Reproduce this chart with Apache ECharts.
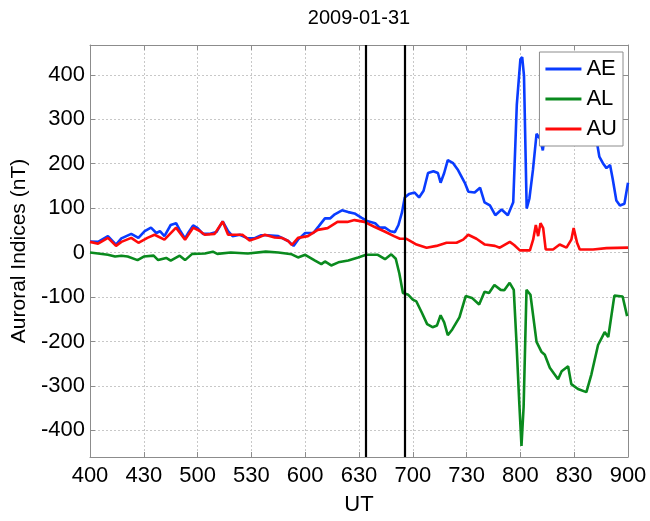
<!DOCTYPE html>
<html>
<head>
<meta charset="utf-8">
<title>Auroral Indices 2009-01-31</title>
<script src="https://cdn.jsdelivr.net/npm/echarts@6/dist/echarts.min.js"></script>
<style>
  html, body { margin: 0; padding: 0; background: #fff; }
  #chart { width: 650px; height: 521px; }
</style>
</head>
<body>
<div id="chart"></div>
<script>
// ===== Data (times in UT minutes of day) =====
const aeTime = [240,244.5,250,254.5,257.5,263,267,270.5,274,277,279,281.5,285,288,290,293,295,297.5,300,303,306.5,310.5,314,317,319.5,323.5,328,331.5,335.5,339,345,350.5,353.5,356,360,364.5,367.5,371,374,376.5,380.5,384,387.5,391.5,394.5,399,401.5,404.5,407.5,410,412,414,415.5,418,421,423.5,426,428.5,431.5,434,435.5,437.5,439.5,442.5,445,447,449,451,454.5,457.5,460,463,466,469.5,473,476,478,480,481,482,483.5,485,487,489,491,492.5,493.5,495,498,501,504,506.5,509,512,516.5,519.5,522.5,524,526,528,530,531.5,533.5,535.5,538,540];
const aeVals = [25,24,37,18,32,42,33,48,56,44,48,37,62,66,51,32,46,61,55,42,42,46,70,48,37,40,32,32,39,39,37,26,15,29,44,44,59,77,77,86,95,91,88,78,71,66,56,56,48,46,62,91,124,132,135,124,139,179,183,179,157,179,208,201,187,172,157,137,135,146,113,106,84,97,84,113,333,435,440,398,99,121,186,267,256,230,262,280,300,295,275,271,300,320,324,284,252,216,201,190,197,165,117,106,110,157];

const alTime = [240,244.5,250,254,257.5,261,266.5,270,275.5,278,282.5,285,290,293,297,304,308.5,311,318.5,328,338,345,352.5,356,360,365.5,369,371,374.5,378.5,384,389.5,394,400.5,404.5,408,410.5,412.5,414.5,417.5,420,422,425,428,431,433.5,435.5,437.5,439.5,442,446,449.5,453,457,460,462.5,465.5,469,471,474,476.3,477.8,479.3,480.6,481.8,483.4,485.6,489,491.7,493.6,496.4,501,503,506.6,508.4,512.1,516.8,519.6,523.3,527,529,532.4,537,539.5];
const alVals = [0,-2,-5,-9,-7,-9,-17,-9,-7,-17,-12,-18,-7,-17,-3,-2,2,-3,0,-2,2,0,-4,-11,-5,-18,-26,-20,-29,-22,-18,-11,-5,-5,-15,-4,-14,-47,-91,-95,-106,-110,-135,-161,-168,-164,-141,-157,-186,-173,-146,-98,-102,-117,-88,-91,-73,-84,-85,-68,-84,-201,-332,-435,-347,-84,-95,-201,-223,-230,-259,-285,-267,-256,-296,-307,-314,-274,-208,-179,-190,-97,-99,-143];

const auTime = [240,244.5,250,254.5,257.5,263,267,272,276,281.5,288,293,297.5,301,304,309.5,314,317,321,325,329,333.5,337.5,343,347,350.5,352.5,356,361.5,367,372.5,378,383.5,387.5,393,398.5,404,409.5,412.8,416.5,422.1,427.7,433.2,438.8,444.4,448.1,450.9,455.5,460.2,465.8,468.5,474.1,476.5,479.7,485.3,487.1,488.6,489.9,491.2,492.7,494.1,498.2,501.9,505.7,508.4,509.7,511.6,513.1,520.5,528,540];
const auVals = [24,20,33,15,24,33,22,33,40,29,56,29,56,49,40,42,70,40,40,40,27,33,40,34,33,26,17,33,37,51,55,69,69,73,69,58,48,37,31,31,18,11,15,22,22,29,40,31,18,15,11,24,17,5,5,29,62,37,66,55,7,7,18,11,29,55,22,7,7,10,11];

const eventTimes = [394, 415.5];           // vertical black markers
const seriesNames = ['AE', 'AL', 'AU'];
const seriesColors = ['#0a3cff', '#0a8a1e', '#ff0a0a'];

// ===== Helpers =====
const FONT = 'Liberation Sans, Arial, sans-serif';
const GRID_COLOR = '#c8c8c8';
const AXIS_COLOR = '#8c8c8c';

function zip(ts, vs) { return ts.map((t, i) => [t, vs[i]]); }
function hhmm(v) { return String(Math.floor(v / 60) * 100 + Math.round(v % 60)); }

const xBase = {
  type: 'value', min: 240, max: 540, interval: 30,
  axisLine: { show: true, onZero: false, lineStyle: { color: AXIS_COLOR, width: 1 }},
  axisTick: { show: true, inside: true, length: 5, lineStyle: { color: AXIS_COLOR }},
};
const yBase = {
  type: 'value', min: -460, max: 467, splitNumber: 9,
  axisLine: { show: true, onZero: false, lineStyle: { color: AXIS_COLOR, width: 1 }},
  axisTick: { show: true, inside: true, length: 5, lineStyle: { color: AXIS_COLOR }},
};

const chart = echarts.init(document.getElementById('chart'));
chart.setOption({
  animation: false,
  title: {
    text: '2009-01-31', left: 354, top: 3, textAlign: 'center',
    textStyle: { fontFamily: FONT, fontSize: 20, fontWeight: 'normal', color: '#000' }
  },
  grid: { left: 90, right: 22, top: 45, bottom: 53, show: false },
  legend: {
    data: seriesNames, orient: 'vertical', right: 27, top: 52,
    icon: 'rect', itemWidth: 36, itemHeight: 3, itemGap: 8,
    padding: [6, 6, 6, 6],
    backgroundColor: '#fff', borderColor: AXIS_COLOR, borderWidth: 1,
    textStyle: { fontFamily: FONT, fontSize: 22, color: '#000' }
  },
  xAxis: [
    { ...xBase, position: 'bottom',
      name: 'UT', nameLocation: 'middle', nameGap: 37,
      nameTextStyle: { fontFamily: FONT, fontSize: 22, color: '#000' },
      axisLabel: { formatter: hhmm, fontFamily: FONT, fontSize: 22, color: '#000', margin: 8 },
      splitLine: { show: true, lineStyle: { color: GRID_COLOR, type: [2, 2], width: 1 }} },
    { ...xBase, position: 'top', axisLabel: { show: false }, splitLine: { show: false }},
  ],
  yAxis: [
    { ...yBase, position: 'left',
      name: 'Auroral Indices (nT)', nameLocation: 'middle', nameGap: 58, nameRotate: 90,
      nameTextStyle: { fontFamily: FONT, fontSize: 21, color: '#000' },
      axisLabel: {
        fontFamily: FONT, fontSize: 22, color: '#000', margin: 5,
        showMinLabel: false, showMaxLabel: false,
        formatter: v => (v % 100 === 0 ? String(v) : '')
      },
      splitLine: { show: true, lineStyle: { color: GRID_COLOR, type: [2, 2], width: 1 }} },
    { ...yBase, position: 'right', axisLabel: { show: false }, splitLine: { show: false }},
  ],
  series: [
    { name: seriesNames[0], type: 'line', data: zip(aeTime, aeVals), symbol: 'none',
      lineStyle: { color: seriesColors[0], width: 2.6 }, itemStyle: { color: seriesColors[0] }, z: 3,
      markLine: {
        symbol: 'none', silent: true, label: { show: false },
        lineStyle: { color: '#000', type: 'solid', width: 2.2 },
        data: eventTimes.map(t => ({ xAxis: t }))
      } },
    { name: seriesNames[1], type: 'line', data: zip(alTime, alVals), symbol: 'none',
      lineStyle: { color: seriesColors[1], width: 2.6 }, itemStyle: { color: seriesColors[1] }, z: 3 },
    { name: seriesNames[2], type: 'line', data: zip(auTime, auVals), symbol: 'none',
      lineStyle: { color: seriesColors[2], width: 2.6 }, itemStyle: { color: seriesColors[2] }, z: 3 },
  ]
});
</script>
</body>
</html>
